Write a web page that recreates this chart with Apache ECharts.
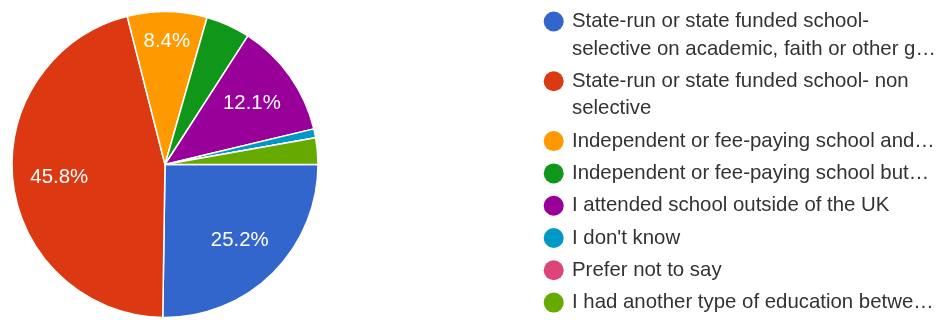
<!DOCTYPE html>
<html>
<head>
<meta charset="utf-8">
<script src="https://cdn.jsdelivr.net/npm/echarts@6/dist/echarts.min.js"></script>
<style>
  html, body { margin: 0; padding: 0; background: #ffffff; }
  #chart { width: 941px; height: 320px; }
</style>
</head>
<body>
<div id="chart"></div>
<script>
// Response categories (legend text, wrapped / shortened as displayed)
const categories = [
  'State-run or state funded school-\nselective on academic, faith or other g\u2026',
  'State-run or state funded school- non\nselective',
  'Independent or fee-paying school and\u2026',
  'Independent or fee-paying school but\u2026',
  'I attended school outside of the UK',
  "I don't know",
  'Prefer not to say',
  'I had another type of education betwe\u2026'
];

// Number of responses per category
const counts = [27, 49, 9, 5, 13, 1, 0, 3];

// Slice colours
const colors = ['#3366cc', '#dc3912', '#ff9900', '#109618', '#990099', '#0099c6', '#dd4477', '#66aa00'];

const FONT = '"Liberation Sans", Arial, Helvetica, sans-serif';
const total = counts.reduce((a, b) => a + b, 0);
const pctOf = v => v / total * 100;

// Slices below LABEL_MIN_PCT get no label; slices below NARROW_PCT get theirs further out
const LABEL_MIN_PCT = 5;
const NARROW_PCT = 10;

const CENTER = [165, 164.5];
const RADIUS = 153;
const WIDE_LABEL_RING = [54, 153];
const NARROW_LABEL_RING = [87, 153];

// Legend geometry: one legend block per category, stacked down the right side
const LEGEND_LEFT = 543.7;
const FIRST_ROW = 21.5;
const ROW_GAP = 32.3;
const LINE_H = 27.5;
const ICON = 20;

let rowY = FIRST_ROW;
const legends = categories.map((name) => {
  const extraLines = name.split('\n').length - 1;
  // A blank leading line per extra line keeps the centred text block's
  // first real line level with the icon.
  const shown = '\u00a0\n'.repeat(extraLines) + name;
  const boxH = (1 + 2 * extraLines) * LINE_H;
  const top = rowY - ICON / 2 + Math.min(0, ICON / 2 - boxH / 2);
  rowY += ROW_GAP + extraLines * LINE_H;
  return {
    data: [name],
    formatter: () => shown,
    orient: 'vertical',
    left: LEGEND_LEFT,
    top: top,
    padding: 0,
    itemWidth: ICON,
    itemHeight: ICON,
    icon: 'circle',
    itemStyle: { borderWidth: 0 },
    textStyle: {
      color: '#333333',
      fontFamily: FONT,
      fontSize: 20.4,
      lineHeight: LINE_H,
      padding: [0, 0, 0, 3.3],
      backgroundColor: 'rgba(255,255,255,0)'
    }
  };
});

const sliceData = categories.map((name, i) => ({
  name: name,
  value: counts[i],
  itemStyle: { color: colors[i] }
}));
const plainData = categories.map((name, i) => ({ name: name, value: counts[i] }));

function labelSeries(ring, test) {
  return {
    type: 'pie',
    center: CENTER,
    radius: ring,
    startAngle: 0,
    clockwise: true,
    silent: true,
    data: plainData,
    itemStyle: { color: 'rgba(0,0,0,0)', borderWidth: 0 },
    emphasis: { disabled: true },
    labelLine: { show: false },
    label: {
      show: true,
      position: 'inside',
      color: '#ffffff',
      fontFamily: FONT,
      fontSize: 20.4,
      formatter: p => {
        const v = pctOf(p.value);
        return test(v) ? v.toFixed(1) + '%' : '';
      }
    }
  };
}

const chart = echarts.init(document.getElementById('chart'), null, { renderer: 'canvas' });
chart.setOption({
  animation: false,
  backgroundColor: '#ffffff',
  color: colors,
  legend: legends,
  series: [
    {
      type: 'pie',
      center: CENTER,
      radius: [0, RADIUS],
      startAngle: 0,
      clockwise: true,
      data: sliceData,
      label: { show: false },
      labelLine: { show: false },
      itemStyle: { borderColor: '#ffffff', borderWidth: 1.5 },
      emphasis: { disabled: true }
    },
    labelSeries(WIDE_LABEL_RING, v => v >= NARROW_PCT),
    labelSeries(NARROW_LABEL_RING, v => v >= LABEL_MIN_PCT && v < NARROW_PCT)
  ]
});
</script>
</body>
</html>
